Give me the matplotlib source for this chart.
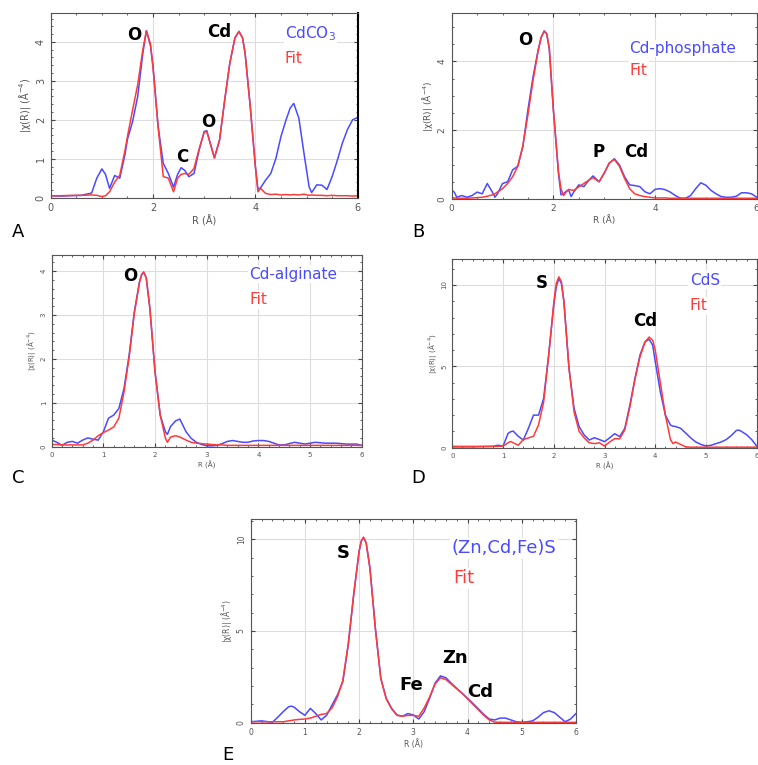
import matplotlib.pyplot as plt
import numpy as np

# ---- data ----
# A: CdCO3
r_a = [0, 0.2, 0.4, 0.6, 0.8, 0.9, 1.0, 1.07, 1.15, 1.25, 1.35, 1.45, 1.5, 1.6, 1.7, 1.8, 1.87, 1.95,
       2.0, 2.1, 2.2, 2.3, 2.4, 2.48, 2.55, 2.62, 2.7, 2.8, 2.9, 3.0, 3.05, 3.1, 3.2, 3.3, 3.4, 3.5,
       3.6, 3.68, 3.75, 3.8, 3.9, 4.0, 4.05, 4.1, 4.2, 4.3, 4.4, 4.5, 4.6, 4.68, 4.75, 4.85, 4.95,
       5.05, 5.1, 5.2, 5.3, 5.4, 5.5, 5.6, 5.7, 5.8, 5.9, 6.0]
a_data = [0.05, 0.04, 0.05, 0.06, 0.12, 0.5, 0.74, 0.6, 0.24, 0.57, 0.5, 1.1, 1.5, 1.95, 2.6, 3.7, 4.29, 3.9,
          3.37, 1.82, 0.88, 0.62, 0.27, 0.6, 0.77, 0.7, 0.54, 0.62, 1.22, 1.7, 1.72, 1.48, 1.02, 1.48, 2.5, 3.45,
          4.1, 4.27, 4.1, 3.7, 2.34, 0.8, 0.22, 0.25, 0.45, 0.62, 1.0, 1.57, 2.0, 2.3, 2.42, 2.04, 1.14,
          0.28, 0.13, 0.33, 0.32, 0.21, 0.54, 0.95, 1.4, 1.75, 2.0, 2.06]
a_fit = [0.05, 0.05, 0.06, 0.06, 0.07, 0.06, 0.03, 0.05, 0.15, 0.4, 0.58, 1.2, 1.57, 2.25, 2.9, 3.8, 4.28, 3.95,
         3.33, 1.8, 0.54, 0.5, 0.15, 0.5, 0.6, 0.62, 0.6, 0.75, 1.25, 1.68, 1.7, 1.48, 1.02, 1.48, 2.5, 3.45,
         4.1, 4.27, 4.1, 3.7, 2.34, 0.8, 0.15, 0.24, 0.11, 0.08, 0.09, 0.07, 0.08, 0.07, 0.08, 0.07, 0.09,
         0.06, 0.07, 0.06, 0.06, 0.05, 0.06, 0.05, 0.05, 0.05, 0.04, 0.05]

# B: Cd-phosphate
r_b = [0, 0.05, 0.1, 0.2, 0.3, 0.4, 0.5, 0.6, 0.7, 0.8, 0.85, 0.9, 1.0, 1.1, 1.2, 1.3, 1.4, 1.5, 1.6, 1.7,
       1.76, 1.82, 1.87, 1.92, 2.0, 2.1, 2.15, 2.2, 2.25, 2.3, 2.35, 2.4, 2.5, 2.6, 2.7, 2.78, 2.9, 3.0,
       3.1, 3.2, 3.3, 3.4, 3.5, 3.6, 3.7, 3.8, 3.9, 4.0, 4.1, 4.2, 4.3, 4.4, 4.5, 4.6, 4.7, 4.8, 4.9,
       5.0, 5.1, 5.2, 5.3, 5.4, 5.5, 5.6, 5.7, 5.8, 5.9, 6.0]
b_data = [0.25, 0.2, 0.05, 0.1, 0.05, 0.1, 0.2, 0.15, 0.45, 0.2, 0.05, 0.15, 0.45, 0.5, 0.85, 0.95, 1.52, 2.6,
          3.55, 4.33, 4.7, 4.89, 4.8, 4.35, 2.6, 0.75, 0.12, 0.15, 0.22, 0.26, 0.07, 0.2, 0.41, 0.36, 0.55,
          0.67, 0.5, 0.75, 1.04, 1.17, 0.99, 0.65, 0.41, 0.39, 0.36, 0.21, 0.15, 0.28, 0.3, 0.27, 0.2, 0.1,
          0.02, 0.02, 0.1, 0.3, 0.47, 0.4, 0.25, 0.15, 0.07, 0.05, 0.05, 0.08, 0.18, 0.18, 0.15, 0.05]
b_fit = [0.03, 0.03, 0.02, 0.02, 0.02, 0.03, 0.04, 0.05, 0.08, 0.12, 0.15, 0.2, 0.3, 0.45, 0.65, 0.95, 1.55, 2.45,
         3.45, 4.3, 4.7, 4.88, 4.8, 4.4, 2.6, 0.8, 0.3, 0.1, 0.2, 0.28, 0.26, 0.25, 0.35, 0.45, 0.55,
         0.62, 0.5, 0.75, 1.05, 1.15, 0.95, 0.6, 0.3, 0.15, 0.1, 0.07, 0.05, 0.03, 0.03, 0.03, 0.02, 0.02,
         0.02, 0.02, 0.02, 0.02, 0.02, 0.02, 0.02, 0.02, 0.02, 0.02, 0.02, 0.02, 0.02, 0.02, 0.02, 0.02]

# C: Cd-alginate
r_c = [0, 0.1, 0.2, 0.3, 0.4, 0.5, 0.6, 0.7, 0.8, 0.9, 1.0, 1.1, 1.2, 1.3, 1.4, 1.5, 1.6, 1.7, 1.74,
       1.78, 1.83, 1.9, 2.0, 2.1, 2.2, 2.24, 2.3, 2.4, 2.48, 2.6, 2.7, 2.8, 2.9, 3.0, 3.1, 3.2, 3.3, 3.4,
       3.5, 3.6, 3.7, 3.8, 3.9, 4.0, 4.1, 4.2, 4.3, 4.4, 4.5, 4.6, 4.7, 4.8, 4.9, 5.0, 5.1, 5.2, 5.3,
       5.5, 5.7, 5.9, 6.0]
c_data = [0.15, 0.1, 0.03, 0.1, 0.12, 0.08, 0.15, 0.2, 0.17, 0.15, 0.34, 0.65, 0.72, 0.87, 1.33, 2.1, 3.08, 3.76, 3.92,
          3.98, 3.85, 3.16, 1.71, 0.72, 0.34, 0.28, 0.46, 0.59, 0.63, 0.34, 0.19, 0.1, 0.05, 0.02, 0.02, 0.03, 0.07, 0.12,
          0.14, 0.12, 0.1, 0.1, 0.13, 0.14, 0.14, 0.12, 0.08, 0.04, 0.04, 0.07, 0.1, 0.08, 0.06, 0.08, 0.1, 0.09, 0.08,
          0.08, 0.06, 0.06, 0.03]
c_fit = [0.05, 0.05, 0.04, 0.04, 0.04, 0.04, 0.04, 0.08, 0.15, 0.25, 0.32, 0.38, 0.45, 0.65, 1.25, 2.05, 3.05, 3.75, 3.92,
         3.98, 3.85, 3.15, 1.7, 0.72, 0.2, 0.1, 0.22, 0.25, 0.22, 0.15, 0.1, 0.08, 0.07, 0.06, 0.05, 0.04, 0.04, 0.03,
         0.03, 0.03, 0.03, 0.03, 0.03, 0.03, 0.03, 0.03, 0.03, 0.03, 0.03, 0.03, 0.03, 0.03, 0.03, 0.03, 0.03, 0.03, 0.03,
         0.03, 0.03, 0.03, 0.03]

# D: CdS
r_d = [0, 0.4, 0.8, 0.9, 1.0, 1.1, 1.15, 1.2, 1.3, 1.4, 1.5, 1.6, 1.7, 1.8, 1.9, 2.0, 2.05, 2.1, 2.15, 2.2,
       2.3, 2.4, 2.5, 2.6, 2.7, 2.8, 2.9, 3.0, 3.1, 3.2, 3.3, 3.4, 3.5, 3.6, 3.7, 3.8, 3.88, 3.95, 4.0,
       4.1, 4.2, 4.3, 4.35, 4.4, 4.5, 4.6, 4.7, 4.8, 4.9, 5.0, 5.1, 5.2, 5.3, 5.4, 5.5, 5.6, 5.65, 5.7,
       5.8, 5.9, 6.0]
d_data = [0.05, 0.05, 0.08, 0.15, 0.1, 0.88, 0.98, 1.02, 0.7, 0.47, 1.19, 2.0, 2.0, 3.03, 5.7, 8.77, 9.9, 10.4, 10.1, 8.97,
          4.88, 2.42, 1.29, 0.78, 0.47, 0.61, 0.5, 0.37, 0.6, 0.86, 0.68, 1.19, 2.62, 4.26, 5.7, 6.52, 6.66, 6.3, 5.29,
          3.44, 2.0, 1.39, 1.32, 1.3, 1.19, 0.9, 0.6, 0.35, 0.2, 0.1, 0.15, 0.25, 0.35, 0.5, 0.75, 1.06, 1.08, 1.0,
          0.8, 0.5, 0.1]
d_fit = [0.08, 0.08, 0.08, 0.08, 0.1, 0.3, 0.38, 0.3, 0.15, 0.5, 0.6, 0.7, 1.4, 2.8, 5.7, 8.9, 10.1, 10.5, 10.2, 9.0,
         4.9, 2.2, 1.0, 0.6, 0.3, 0.25, 0.3, 0.1, 0.35, 0.55, 0.55, 1.1, 2.5, 4.2, 5.6, 6.5, 6.8, 6.6, 6.0,
         4.0, 2.0, 0.5, 0.25, 0.35, 0.2, 0.05, 0.03, 0.03, 0.03, 0.03, 0.03, 0.03, 0.03, 0.03, 0.03, 0.03, 0.03, 0.03,
         0.03, 0.03, 0.03]

# E: (Zn,Cd,Fe)S
r_e = [0, 0.2, 0.4, 0.5, 0.6, 0.7, 0.75, 0.8, 0.9, 1.0, 1.1, 1.2, 1.3, 1.4, 1.5, 1.6, 1.7, 1.8, 1.9, 2.0,
       2.04, 2.08, 2.13, 2.2, 2.3, 2.4, 2.5, 2.6, 2.7, 2.8, 2.9, 3.0, 3.1, 3.2, 3.3, 3.4, 3.5, 3.6, 3.7,
       3.8, 3.9, 4.0, 4.1, 4.2, 4.3, 4.4, 4.5, 4.6, 4.7, 4.8, 4.9, 5.0, 5.1, 5.2, 5.3, 5.4, 5.5, 5.6,
       5.7, 5.8, 5.9, 6.0]
e_data = [0.05, 0.1, 0.02, 0.3, 0.6, 0.87, 0.9, 0.85, 0.6, 0.4, 0.78, 0.5, 0.15, 0.4, 0.96, 1.51, 2.24, 4.24, 6.96, 9.33,
          9.9, 10.1, 9.8, 8.42, 5.15, 2.42, 1.33, 0.78, 0.42, 0.35, 0.5, 0.42, 0.2, 0.6, 1.33, 2.15, 2.55, 2.45, 2.15,
          1.87, 1.6, 1.33, 1.05, 0.75, 0.45, 0.2, 0.15, 0.25, 0.25, 0.15, 0.05, 0.02, 0.05, 0.1, 0.3, 0.55, 0.65, 0.55,
          0.3, 0.05, 0.2, 0.5]
e_fit = [0.05, 0.05, 0.05, 0.05, 0.05, 0.1, 0.12, 0.15, 0.18, 0.2, 0.25, 0.35, 0.45, 0.5, 0.8, 1.4, 2.3, 4.3, 7.0, 9.35,
         9.9, 10.1, 9.8, 8.4, 5.1, 2.4, 1.3, 0.75, 0.4, 0.35, 0.4, 0.4, 0.35, 0.8, 1.4, 2.1, 2.45, 2.35, 2.1,
         1.85, 1.6, 1.3, 1.0, 0.7, 0.4, 0.15, 0.03, 0.02, 0.02, 0.02, 0.02, 0.02, 0.02, 0.02, 0.02, 0.02, 0.02, 0.02,
         0.02, 0.02, 0.02, 0.02]

blue = '#4a4aff'
red = '#ff3a3a'

fig = plt.figure(figsize=(7.58, 7.65), dpi=100)

panels = [
    # rect, r, data, fit, ylim, xmajor, ymajor, letter, letter pos (fig px), tick font size
    ([0.0669, 0.7416, 0.405, 0.2418], r_a, a_data, a_fit, 4.75, 2, 1, 'A', (18, 232), 7),
    ([0.5959, 0.7399, 0.4024, 0.2427], r_b, b_data, b_fit, 5.4, 2, 2, 'B', (418, 232), 6.5),
    ([0.0682, 0.4161, 0.409, 0.2506], r_c, c_data, c_fit, 4.37, 1, 1, 'C', (18, 478), 5),
    ([0.5967, 0.4148, 0.4016, 0.2467], r_d, d_data, d_fit, 11.6, 1, 5, 'D', (418, 478), 5),
    ([0.3307, 0.0553, 0.4292, 0.2663], r_e, e_data, e_fit, 11.1, 1, 5, 'E', (228, 755), 5.5),
]

axes = []
for rect, r, dat, fit, ytop, xm, ym, letter, lpos, tfs in panels:
    ax = fig.add_axes(rect)
    ax.plot(r, dat, color=blue, lw=1.1)
    ax.plot(r, fit, color=red, lw=1.1)
    ax.set_xlim(0, 6)
    ax.set_ylim(0, ytop)
    ax.set_xticks(np.arange(0, 6.01, xm))
    ax.set_yticks(np.arange(0, ytop, ym))
    ax.minorticks_on()
    ax.grid(True, which='major', color='#dddddd', lw=0.8)
    ax.tick_params(which='both', direction='in', top=True, right=True,
                   labelsize=tfs, labelcolor='#555555', color='#444444')
    ax.tick_params(which='major', length=3)
    ax.tick_params(which='minor', length=1.5)
    for lab in ax.get_yticklabels():
        lab.set_rotation(90)
        lab.set_va('center')
    for s in ax.spines.values():
        s.set_color('#555555')
        s.set_linewidth(0.8)
    ax.set_xlabel('R (Å)', fontsize=tfs, color='#555555', labelpad=2)
    ax.set_ylabel('|χ(R)| (Å$^{-4}$)', fontsize=tfs, color='#555555', labelpad=2)
    fig.text(lpos[0] / 758, 1 - lpos[1] / 765, letter, fontsize=13, ha='center', va='center')
    axes.append(ax)

ax_a, ax_b, ax_c, ax_d, ax_e = axes
lab = dict(fontsize=12, fontweight='bold', ha='center', va='center')
leg = dict(fontsize=11, ha='left', va='center', bbox=dict(fc='white', ec='none', pad=1))

# A
ax_a.spines['right'].set_color('black')
ax_a.spines['right'].set_linewidth(1.5)
ax_a.text(1.64, 4.18, 'O', **lab)
ax_a.text(3.3, 4.25, 'Cd', **lab)
ax_a.text(2.57, 1.05, 'C', **lab)
ax_a.text(3.08, 1.95, 'O', **lab)
ax_a.text(4.58, 4.22, 'CdCO$_3$', color=blue, **leg)
ax_a.text(4.56, 3.58, 'Fit', color=red, **leg)

# B
ax_b.text(1.44, 4.62, 'O', **lab)
ax_b.text(2.89, 1.38, 'P', **lab)
ax_b.text(3.62, 1.38, 'Cd', **lab)
ax_b.text(3.5, 4.38, 'Cd-phosphate', color=blue, **leg)
ax_b.text(3.5, 3.75, 'Fit', color=red, **leg)

# C
ax_c.text(1.52, 3.88, 'O', **lab)
ax_c.text(3.83, 3.93, 'Cd-alginate', color=blue, **leg)
ax_c.text(3.83, 3.35, 'Fit', color=red, **leg)

# D
ax_d.text(1.76, 10.1, 'S', **lab)
ax_d.text(3.81, 7.79, 'Cd', **lab)
ax_d.text(4.68, 10.3, 'CdS', color=blue, **leg)
ax_d.text(4.68, 8.73, 'Fit', color=red, **leg)

# E
lab_e = dict(lab, fontsize=13)
ax_e.text(1.71, 9.24, 'S', **lab_e)
ax_e.text(3.77, 3.5, 'Zn', **lab_e)
ax_e.text(2.97, 2.05, 'Fe', **lab_e)
ax_e.text(4.24, 1.69, 'Cd', **lab_e)
ax_e.text(3.71, 9.5, '(Zn,Cd,Fe)S', color=blue, **dict(leg, fontsize=13))
ax_e.text(3.74, 7.87, 'Fit', color=red, **dict(leg, fontsize=13))

fig.savefig('out.png', dpi=100)
